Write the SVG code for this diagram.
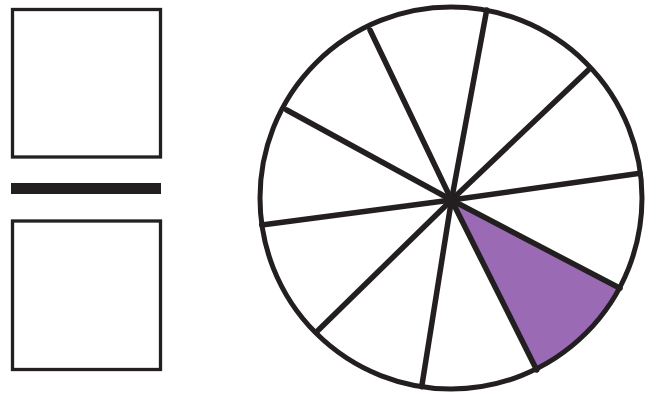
<svg xmlns="http://www.w3.org/2000/svg" width="646" height="399" viewBox="0 0 646 399">
<style>
.box{fill:#fff;stroke:#231f20;stroke-width:3.3}
.spoke{stroke:#231f20;stroke-width:5.5;stroke-linecap:round;fill:none}
</style>
<rect width="646" height="399" fill="#fff"/>
<g id="numerator"><rect class="box" x="12.5" y="9.5" width="148" height="147.5"/></g>
<g id="fraction-bar"><rect x="11" y="183" width="150" height="11" fill="#231f20"/></g>
<g id="denominator"><rect class="box" x="12.5" y="221" width="148" height="148.5"/></g>
<g id="pie">
<path id="shaded" d="M451.5,200 L620,288.3 A191,191 0 0 1 536.7,370 Z" fill="#9a6ab4"/>
<circle cx="451" cy="198" r="191" fill="none" stroke="#231f20" stroke-width="5"/>
</g>
<g id="connectors">
<line class="spoke" x1="451.5" y1="200" x2="486.7" y2="10"/>
<line class="spoke" x1="451.5" y1="200" x2="588.3" y2="70"/>
<line class="spoke" x1="451.5" y1="200" x2="640" y2="173.3"/>
<line class="spoke" x1="451.5" y1="200" x2="620" y2="288.3"/>
<line class="spoke" x1="451.5" y1="200" x2="536.7" y2="370"/>
<line class="spoke" x1="451.5" y1="200" x2="421.7" y2="386.7"/>
<line class="spoke" x1="451.5" y1="200" x2="316.7" y2="331.7"/>
<line class="spoke" x1="451.5" y1="200" x2="261.7" y2="225"/>
<line class="spoke" x1="451.5" y1="200" x2="286.7" y2="110"/>
<line class="spoke" x1="451.5" y1="200" x2="370" y2="30"/>
</g>
</svg>
